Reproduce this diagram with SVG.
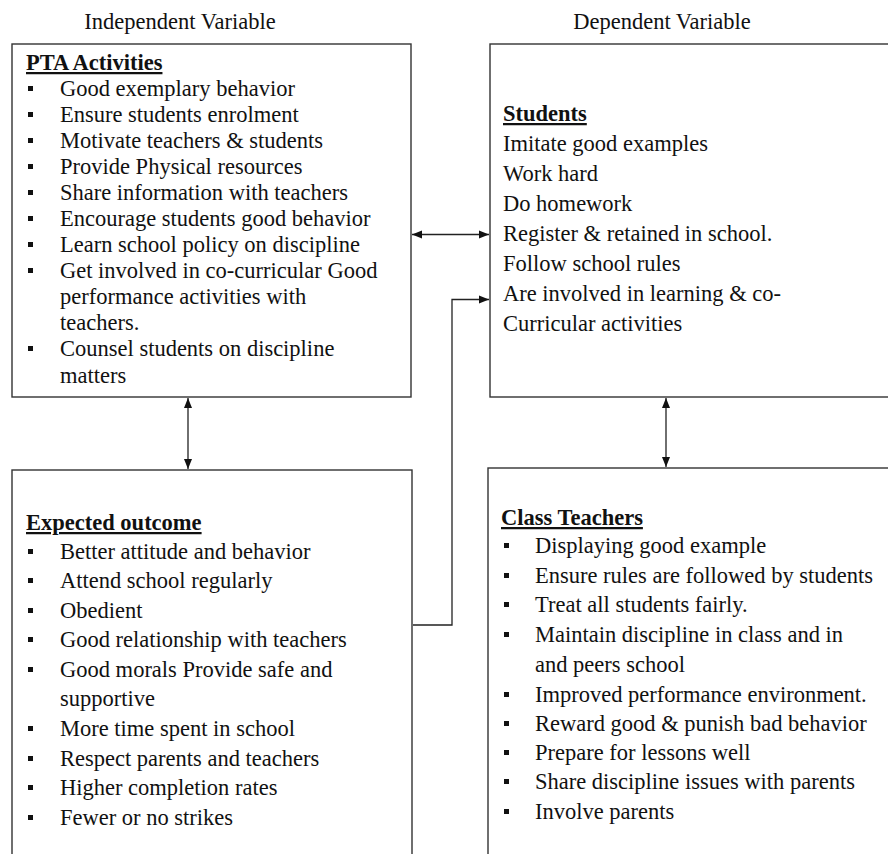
<svg xmlns="http://www.w3.org/2000/svg" width="888" height="854" viewBox="0 0 888 854">
<style>
text{font-family:"Liberation Serif","Times New Roman",serif;font-size:22.5px;fill:#111}
.h{font-weight:bold;text-decoration:underline}
.box{fill:#fff;stroke:#333;stroke-width:1.4}
.b{fill:#111}
.c{fill:none;stroke:#222;stroke-width:1.3}
</style>
<defs>
<marker id="ah" viewBox="0 0 10 10" refX="10" refY="5" markerWidth="10" markerHeight="10" markerUnits="userSpaceOnUse" orient="auto-start-reverse">
<path d="M0,1 L10,5 L0,9 Z" fill="#111"/>
</marker>
</defs>
<text x="180" y="29" text-anchor="middle">Independent Variable</text>
<text x="662" y="29" text-anchor="middle">Dependent Variable</text>

<g id="pta">
<rect class="box" x="12" y="44" width="399" height="353"/>
<text class="h" x="26" y="70">PTA Activities</text>
<g class="b">
<rect x="28" y="86" width="5" height="5"/><rect x="28" y="112" width="5" height="5"/><rect x="28" y="138" width="5" height="5"/><rect x="28" y="164" width="5" height="5"/><rect x="28" y="190" width="5" height="5"/><rect x="28" y="216" width="5" height="5"/><rect x="28" y="242" width="5" height="5"/><rect x="28" y="268" width="5" height="5"/><rect x="28" y="346" width="5" height="5"/>
</g>
<text x="60" y="96">Good exemplary behavior</text>
<text x="60" y="122">Ensure students enrolment</text>
<text x="60" y="148">Motivate teachers &amp; students</text>
<text x="60" y="174">Provide Physical resources</text>
<text x="60" y="200">Share information with teachers</text>
<text x="60" y="226">Encourage students good behavior</text>
<text x="60" y="252">Learn school policy on discipline</text>
<text x="60" y="278">Get involved in co-curricular Good</text>
<text x="60" y="304">performance activities with</text>
<text x="60" y="330">teachers.</text>
<text x="60" y="356">Counsel students on discipline</text>
<text x="60" y="383">matters</text>
</g>

<g id="students">
<rect class="box" x="490" y="44" width="410" height="353"/>
<text class="h" x="503" y="121">Students</text>
<text x="503" y="151">Imitate good examples</text>
<text x="503" y="181">Work hard</text>
<text x="503" y="211">Do homework</text>
<text x="503" y="241">Register &amp; retained in school.</text>
<text x="503" y="271">Follow school rules</text>
<text x="503" y="301">Are involved in learning &amp; co-</text>
<text x="503" y="331">Curricular activities</text>
</g>

<g id="outcome">
<rect class="box" x="12" y="470" width="400" height="400"/>
<text class="h" x="26" y="530">Expected outcome</text>
<g class="b">
<rect x="28" y="549" width="5" height="5"/><rect x="28" y="578" width="5" height="5"/><rect x="28" y="608" width="5" height="5"/><rect x="28" y="637" width="5" height="5"/><rect x="28" y="667" width="5" height="5"/><rect x="28" y="726" width="5" height="5"/><rect x="28" y="756" width="5" height="5"/><rect x="28" y="785" width="5" height="5"/><rect x="28" y="815" width="5" height="5"/>
</g>
<text x="60" y="559">Better attitude and behavior</text>
<text x="60" y="588">Attend school regularly</text>
<text x="60" y="618">Obedient</text>
<text x="60" y="647">Good relationship with teachers</text>
<text x="60" y="677">Good morals Provide safe and</text>
<text x="60" y="706">supportive</text>
<text x="60" y="736">More time spent in school</text>
<text x="60" y="766">Respect parents and teachers</text>
<text x="60" y="795">Higher completion rates</text>
<text x="60" y="825">Fewer or no strikes</text>
</g>

<g id="teachers">
<rect class="box" x="488" y="468" width="412" height="400"/>
<text class="h" x="501" y="525">Class Teachers</text>
<g class="b">
<rect x="504" y="543" width="5" height="5"/><rect x="504" y="573" width="5" height="5"/><rect x="504" y="602" width="5" height="5"/><rect x="504" y="632" width="5" height="5"/><rect x="504" y="692" width="5" height="5"/><rect x="504" y="721" width="5" height="5"/><rect x="504" y="750" width="5" height="5"/><rect x="504" y="779" width="5" height="5"/><rect x="504" y="809" width="5" height="5"/>
</g>
<text x="535" y="553">Displaying good example</text>
<text x="535" y="583">Ensure rules are followed by students</text>
<text x="535" y="612">Treat all students fairly.</text>
<text x="535" y="642">Maintain discipline in class and in</text>
<text x="535" y="672">and peers school</text>
<text x="535" y="702">Improved performance environment.</text>
<text x="535" y="731">Reward good &amp; punish bad behavior</text>
<text x="535" y="760">Prepare for lessons well</text>
<text x="535" y="789">Share discipline issues with parents</text>
<text x="535" y="819">Involve parents</text>
</g>

<g id="connectors">
<line class="c" x1="412" y1="234.5" x2="489" y2="234.5" marker-start="url(#ah)" marker-end="url(#ah)"/>
<line class="c" x1="188" y1="398" x2="188" y2="469" marker-start="url(#ah)" marker-end="url(#ah)"/>
<line class="c" x1="666" y1="398" x2="666" y2="467" marker-start="url(#ah)" marker-end="url(#ah)"/>
<polyline class="c" points="413,625 452,625 452,299.5 489,299.5" marker-end="url(#ah)"/>
</g>
</svg>
